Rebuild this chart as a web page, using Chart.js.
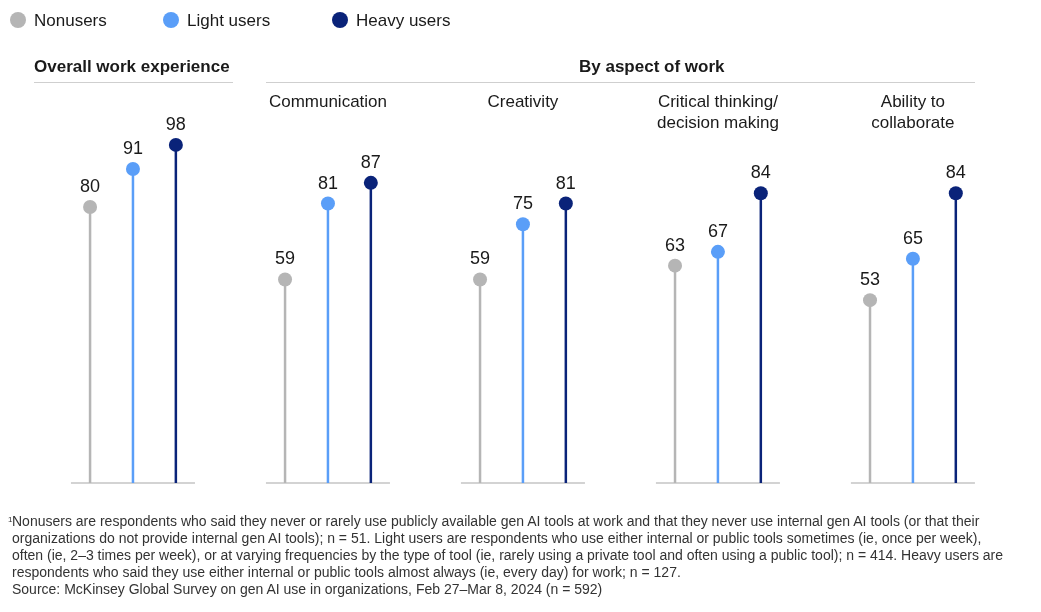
<!DOCTYPE html>
<html>
<head>
<meta charset="utf-8">
<script src="https://cdn.jsdelivr.net/npm/chart.js@4/dist/chart.umd.min.js"></script>
<style>
  body { margin: 0; background: #fff; font-family: "Liberation Sans", Arial, sans-serif; color: #1a1a1a; }
  #wrap { position: relative; width: 1041px; height: 612px; overflow: hidden; }
  #chart { position: absolute; left: 0; top: 0; }
  .legend { position: absolute; top: 11px; font-size: 17px; }
  .legend span.dot { display: inline-block; width: 16px; height: 16px; border-radius: 50%; vertical-align: -2px; margin-right: 8px; }
  .head { position: absolute; top: 57px; font-weight: bold; font-size: 17px; padding-bottom: 5px; border-bottom: 1px solid #cfcfcf; }
  .foot { position: absolute; left: 8px; top: 513px; width: 1030px; font-size: 14px; line-height: 17px; color: #333; white-space: nowrap; }
  .foot p { margin: 0; padding-left: 4px; }
  .foot sup { font-size: 8px; line-height: 8px; position: absolute; left: 0; top: 3px; }
</style>
</head>
<body>
<div id="wrap">
  <canvas id="chart" width="1041" height="612"></canvas>
  <div class="legend" style="left:10px"><span class="dot" style="background:#b5b5b5"></span>Nonusers</div>
  <div class="legend" style="left:163px"><span class="dot" style="background:#5a9ef8"></span>Light users</div>
  <div class="legend" style="left:332px"><span class="dot" style="background:#0a2379"></span>Heavy users</div>
  <div class="head" style="left:34px; width:199px">Overall work experience</div>
  <div class="head" style="left:266px; width:396px; padding-left:313px">By aspect of work</div>
  <div class="foot">
    <sup>1</sup><p>Nonusers are respondents who said they never or rarely use publicly available gen AI tools at work and that they never use internal gen AI tools (or that their<br>organizations do not provide internal gen AI tools); n = 51. Light users are respondents who use either internal or public tools sometimes (ie, once per week),<br>often (ie, 2–3 times per week), or at varying frequencies by the type of tool (ie, rarely using a private tool and often using a public tool); n = 414. Heavy users are<br>respondents who said they use either internal or public tools almost always (ie, every day) for work; n = 127.</p>
    <p>Source: McKinsey Global Survey on gen AI use in organizations, Feb 27–Mar 8, 2024 (n = 592)</p>
  </div>
</div>
<script>
// data
const groups = ['Overall work experience', 'Communication', 'Creativity', 'Critical thinking/ decision making', 'Ability to collaborate'];
const groupLabels = [[], ['Communication'], ['Creativity'], ['Critical thinking/', 'decision making'], ['Ability to', 'collaborate']];
const seriesNames = ['Nonusers', 'Light users', 'Heavy users'];
const nonusers = [80, 59, 59, 63, 53];
const lightUsers = [91, 81, 75, 67, 65];
const heavyUsers = [98, 87, 81, 84, 84];
const colors = ['#b5b5b5', '#5a9ef8', '#0a2379'];

const offsets = [-0.22, 0, 0.22];
const halfBase = 0.318;

function toPoints(values, s) {
    return values.map((v, i) => ({ x: i + offsets[s], y: v }));
}

const lollipops = {
    id: 'lollipops',
    beforeDatasetsDraw(chart) {
        const ctx = chart.ctx;
        const xs = chart.scales.x, ys = chart.scales.y;
        const y0 = ys.getPixelForValue(0);
        ctx.save();
        // baselines
        ctx.strokeStyle = '#c4c4c4';
        ctx.lineWidth = 1.5;
        groups.forEach((g, i) => {
            ctx.beginPath();
            ctx.moveTo(xs.getPixelForValue(i - halfBase), y0);
            ctx.lineTo(xs.getPixelForValue(i + halfBase), y0);
            ctx.stroke();
        });
        // stems
        chart.data.datasets.forEach(ds => {
            ctx.strokeStyle = ds.backgroundColor;
            ctx.lineWidth = 2.5;
            ds.data.forEach(p => {
                const x = xs.getPixelForValue(p.x);
                ctx.beginPath();
                ctx.moveTo(x, ys.getPixelForValue(p.y));
                ctx.lineTo(x, y0);
                ctx.stroke();
            });
        });
        ctx.restore();
    },
    afterDatasetsDraw(chart) {
        const ctx = chart.ctx;
        const xs = chart.scales.x, ys = chart.scales.y;
        ctx.save();
        ctx.fillStyle = '#1a1a1a';
        ctx.textAlign = 'center';
        ctx.textBaseline = 'alphabetic';
        ctx.font = '18px "Liberation Sans", Arial, sans-serif';
        chart.data.datasets.forEach(ds => {
            ds.data.forEach(p => {
                ctx.fillText(String(p.y), xs.getPixelForValue(p.x), ys.getPixelForValue(p.y) - 15);
            });
        });
        ctx.font = '17px "Liberation Sans", Arial, sans-serif';
        groupLabels.forEach((lines, i) => {
            lines.forEach((t, k) => {
                ctx.fillText(t, xs.getPixelForValue(i), 107 + k * 21);
            });
        });
        ctx.restore();
    }
};

new Chart(document.getElementById('chart'), {
    type: 'scatter',
    data: {
        datasets: [
            { label: seriesNames[0], data: toPoints(nonusers, 0), backgroundColor: colors[0], borderColor: colors[0] },
            { label: seriesNames[1], data: toPoints(lightUsers, 1), backgroundColor: colors[1], borderColor: colors[1] },
            { label: seriesNames[2], data: toPoints(heavyUsers, 2), backgroundColor: colors[2], borderColor: colors[2] }
        ]
    },
    options: {
        responsive: false,
        animation: false,
        layout: { padding: { top: 138, bottom: 129, left: 0, right: 0 } },
        elements: { point: { radius: 7, borderWidth: 0, hoverRadius: 7 } },
        scales: {
            x: { type: 'linear', min: -0.646, max: 4.621, display: false },
            y: { min: 0, max: 100, display: false }
        },
        plugins: { legend: { display: false }, tooltip: { enabled: false } },
        clip: false
    },
    plugins: [lollipops]
});
</script>
</body>
</html>
